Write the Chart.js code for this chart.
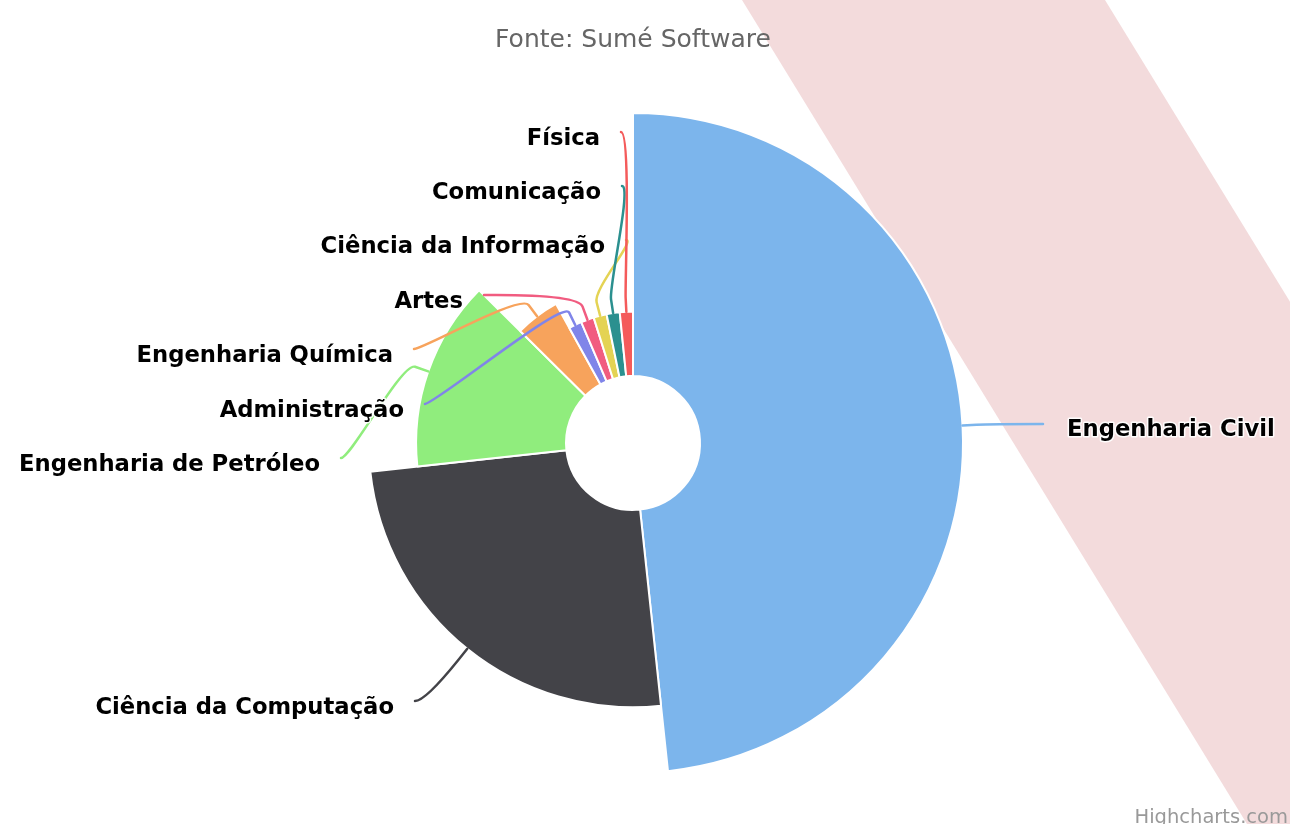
<!DOCTYPE html>
<html><head><meta charset="utf-8">
<script src="https://cdn.jsdelivr.net/npm/chart.js@4/dist/chart.umd.min.js"></script>
<style>html,body{margin:0;padding:0;background:#fff;overflow:hidden}#wrap{width:1290px;height:824px;position:relative}</style>
</head><body><div id="wrap"><canvas id="c" width="1290" height="824"></canvas></div>
<script>
// ---- data ----
const categories = ['Engenharia Civil','Ciência da Computação','Engenharia de Petróleo','Engenharia Química','Administração','Artes','Ciência da Informação','Comunicação','Física'];
const values = [30, 15.5, 8.8, 2.8, 1, 1, 1, 1, 1];          // slice size (angle)
const zValues = [100, 75, 57, 35, 24.5, 24.5, 24.5, 24.5, 24.5]; // slice depth (radius)
const colors = ['#7cb5ec','#434348','#90ed7d','#f7a35c','#8085e9','#f15c80','#e4d354','#2b908f','#f45b5b'];
const subtitleText = 'Fonte: Sumé Software';
const creditText = 'Highcharts.com';

// ---- label layout (text edge x, cap-centre y, side) ----
const labelLayout = [
  {x:1067, y:428, side:'right'},
  {x:394, y:706, side:'left'},
  {x:320, y:463, side:'left'},
  {x:393, y:354, side:'left'},
  {x:404, y:409, side:'left'},
  {x:463, y:300, side:'left'},
  {x:605, y:245, side:'left'},
  {x:601, y:191, side:'left'},
  {x:600, y:137, side:'left'}
];

const FONT = '"DejaVu Sans", "Liberation Sans", sans-serif';

const variableRadius = {
  id: 'variableRadius',
  afterDatasetUpdate(chart, args) {
    const meta = args.meta;
    const ctrl = meta.controller;
    const outer = ctrl.outerRadius, inner = ctrl.innerRadius;
    const zMax = Math.max(...zValues);
    meta.data.forEach((el, i) => {
      el.outerRadius = inner + (outer - inner) * zValues[i] / zMax;
    });
  }
};

const background = {
  id: 'background',
  beforeDraw(chart) {
    const ctx = chart.ctx;
    ctx.save();
    ctx.fillStyle = '#ffffff';
    ctx.fillRect(0, 0, chart.width, chart.height);
    ctx.fillStyle = '#f3dbdc';
    ctx.beginPath();
    ctx.moveTo(742, 0);
    ctx.lineTo(1105, 0);
    ctx.lineTo(1610, 824);
    ctx.lineTo(1247, 824);
    ctx.closePath();
    ctx.fill();
    ctx.restore();
  }
};

const labels = {
  id: 'pieLabels',
  afterDatasetsDraw(chart) {
    const ctx = chart.ctx;
    const meta = chart.getDatasetMeta(0);
    ctx.save();
    // connectors
    meta.data.forEach((el, i) => {
      const L = labelLayout[i];
      const mid = (el.startAngle + el.endAngle) / 2;
      const r = el.outerRadius;
      const T = {x: el.x + Math.cos(mid) * r, y: el.y + Math.sin(mid) * r};
      const B = {x: el.x + Math.cos(mid) * (r + 14), y: el.y + Math.sin(mid) * (r + 14)};
      const S = L.side === 'left' ? {x: L.x + 21, y: L.y - 5} : {x: L.x - 24, y: L.y - 4};
      const dir = L.side === 'left' ? 1 : -1;
      ctx.beginPath();
      ctx.moveTo(S.x, S.y);
      ctx.bezierCurveTo(S.x + dir * 10, S.y, 2 * B.x - T.x, 2 * B.y - T.y, B.x, B.y);
      ctx.lineTo(T.x, T.y);
      ctx.strokeStyle = colors[i];
      ctx.lineWidth = 2.5;
      ctx.lineCap = 'round';
      ctx.stroke();
    });
    // texts
    ctx.font = 'bold 22.7px ' + FONT;
    ctx.textBaseline = 'alphabetic';
    ctx.lineJoin = 'round';
    categories.forEach((name, i) => {
      const L = labelLayout[i];
      ctx.textAlign = L.side === 'left' ? 'right' : 'left';
      ctx.strokeStyle = 'rgba(255,255,255,0.9)';
      ctx.lineWidth = 3;
      ctx.strokeText(name, L.x, L.y + 8.3);
      ctx.fillStyle = '#000000';
      ctx.fillText(name, L.x, L.y + 8.3);
    });
    // subtitle
    ctx.font = '25px ' + FONT;
    ctx.textAlign = 'center';
    ctx.fillStyle = '#666666';
    ctx.fillText(subtitleText, 633, 46.5);
    // credits
    ctx.font = '19.5px ' + FONT;
    ctx.textAlign = 'right';
    ctx.fillStyle = '#999999';
    ctx.fillText(creditText, 1288, 823);
    ctx.restore();
  }
};

new Chart(document.getElementById('c'), {
  type: 'doughnut',
  data: {
    labels: categories,
    datasets: [{
      data: values,
      backgroundColor: colors,
      borderColor: '#ffffff',
      borderWidth: 2
    }]
  },
  options: {
    responsive: false,
    animation: false,
    events: [],
    radius: 330,
    cutout: '20.3%',
    layout: {padding: {left: 0, right: 24, top: 62, bottom: 0}},
    plugins: {legend: {display: false}, tooltip: {enabled: false}, title: {display: false}}
  },
  plugins: [background, variableRadius, labels]
});
</script>
</body></html>
